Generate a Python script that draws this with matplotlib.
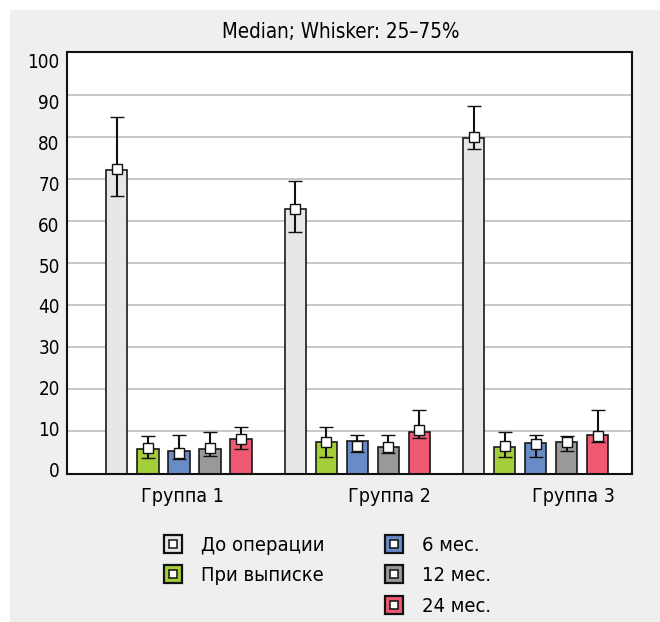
import matplotlib
matplotlib.use("Agg")
import matplotlib.pyplot as plt
from matplotlib.lines import Line2D
from matplotlib.patches import Rectangle
from matplotlib.legend_handler import HandlerTuple
import numpy as np

plt.rcParams['font.family'] = ['Liberation Sans Narrow', 'DejaVu Sans']
plt.rcParams['font.stretch'] = 'condensed'

# ---------------- data ----------------
categories = ['Группа 1', 'Группа 2', 'Группа 3']
series = ['До операции', 'При выписке', '6 мес.', '12 мес.', '24 мес.']
colors = ['#e6e7e9', '#a4cf3a', '#6a8cc6', '#999999', '#ef5a72']

bar_do = [72.2, 62.9, 79.8]
bar_vyp = [5.9, 7.5, 6.3]
bar_6 = [5.3, 7.7, 7.2]
bar_12 = [5.8, 6.3, 7.5]
bar_24 = [8.3, 9.9, 9.1]

med_do = [72.3, 62.9, 80.0]
med_vyp = [6.0, 7.5, 6.5]
med_6 = [4.9, 6.5, 6.9]
med_12 = [6.0, 6.3, 7.4]
med_24 = [8.3, 10.4, 9.0]

q25_do = [65.8, 57.4, 77.1]
q25_vyp = [3.8, 4.0, 4.0]
q25_6 = [3.4, 5.1, 4.0]
q25_12 = [4.2, 4.9, 5.3]
q25_24 = [5.9, 8.5, 7.4]

q75_do = [84.6, 69.4, 87.4]
q75_vyp = [8.9, 11.0, 9.8]
q75_6 = [9.2, 9.1, 9.1]
q75_12 = [9.8, 9.1, 8.9]
q75_24 = [11.1, 15.1, 15.1]

bars = [bar_do, bar_vyp, bar_6, bar_12, bar_24]
meds = [med_do, med_vyp, med_6, med_12, med_24]
q25s = [q25_do, q25_vyp, q25_6, q25_12, q25_24]
q75s = [q75_do, q75_vyp, q75_6, q75_12, q75_24]

ytick_values = [0, 10, 20, 30, 40, 50, 60, 70, 80, 90, 100]

# ---------------- figure ----------------
fig = plt.figure(figsize=(6.6, 6.22), dpi=100, facecolor='white')
fig.patches.append(Rectangle((10 / 660, 0), 1, 1 - 10 / 622, transform=fig.transFigure,
                             facecolor='#efefef', edgecolor='none', zorder=-10))
ax = fig.add_axes([0.101, 0.2387, 0.8566, 0.6769])
ax.set_facecolor('white')

x = np.arange(len(categories))
pitch = 0.174
width = 0.1196
for i, (b, m, lo, hi, c) in enumerate(zip(bars, meds, q25s, q75s, colors)):
    xs = x + (i - 2) * pitch
    ax.bar(xs, b, width=width, color=c, edgecolor='#1a1a1a', linewidth=1.2, zorder=2)
    m = np.array(m); lo = np.array(lo); hi = np.array(hi)
    ax.errorbar(xs, m, yerr=[m - lo, hi - m], fmt='s', color='#111111',
                markerfacecolor='white', markeredgecolor='#111111', markersize=6.5,
                markeredgewidth=1.0, elinewidth=1.5, capsize=4.8, capthick=2.0, zorder=3)

ax.set_xlim(-0.629, 2.540)
ax.set_ylim(0, 100)

# gridlines (minor) and labels (major, slightly offset as in original)
ax.set_yticks(ytick_values[1:-1], minor=True)
ax.yaxis.grid(True, which='minor', color='#bdbdbd', linewidth=1.2, zorder=0)
ax.set_yticks([1.0 + 0.97 * v for v in ytick_values], [str(v) for v in ytick_values])
ax.tick_params(axis='y', which='both', length=0, labelsize=13.5, pad=5)
ax.set_axisbelow(True)

ax.set_xticks([0.02, 1.18, 2.21], categories)
ax.tick_params(axis='x', length=0, labelsize=14, pad=10)

for s in ax.spines.values():
    s.set_linewidth(1.5)
    s.set_color('#111111')

fig.text(0.517, 1 - 32 / 622, 'Median; Whisker: 25–75%', ha='center', va='center', fontsize=14.8)

# legend
handles = []
for c in colors:
    outer = Line2D([], [], marker='s', linestyle='none', markersize=12.5,
                   markerfacecolor=c, markeredgecolor='#111111', markeredgewidth=1.6)
    inner = Line2D([], [], marker='s', linestyle='none', markersize=6,
                   markerfacecolor='white', markeredgecolor='#111111', markeredgewidth=1.1)
    handles.append((outer, inner))
blank = Line2D([], [], linestyle='none', marker=None)
leg_handles = [handles[0], handles[1], blank, handles[2], handles[3], handles[4]]
leg_labels = [series[0], series[1], '', series[2], series[3], series[4]]
fig.legend(leg_handles, leg_labels, ncol=2, frameon=False,
           handler_map={tuple: HandlerTuple(ndivide=1, pad=0)},
           loc='upper left', bbox_to_anchor=(0.248, 1 - 536 / 622),
           fontsize=14.5, handlelength=0.9, handletextpad=0.95,
           columnspacing=3.0, labelspacing=0.56, borderaxespad=0, borderpad=0)

fig.savefig('out.png', dpi=100, facecolor=fig.get_facecolor())
